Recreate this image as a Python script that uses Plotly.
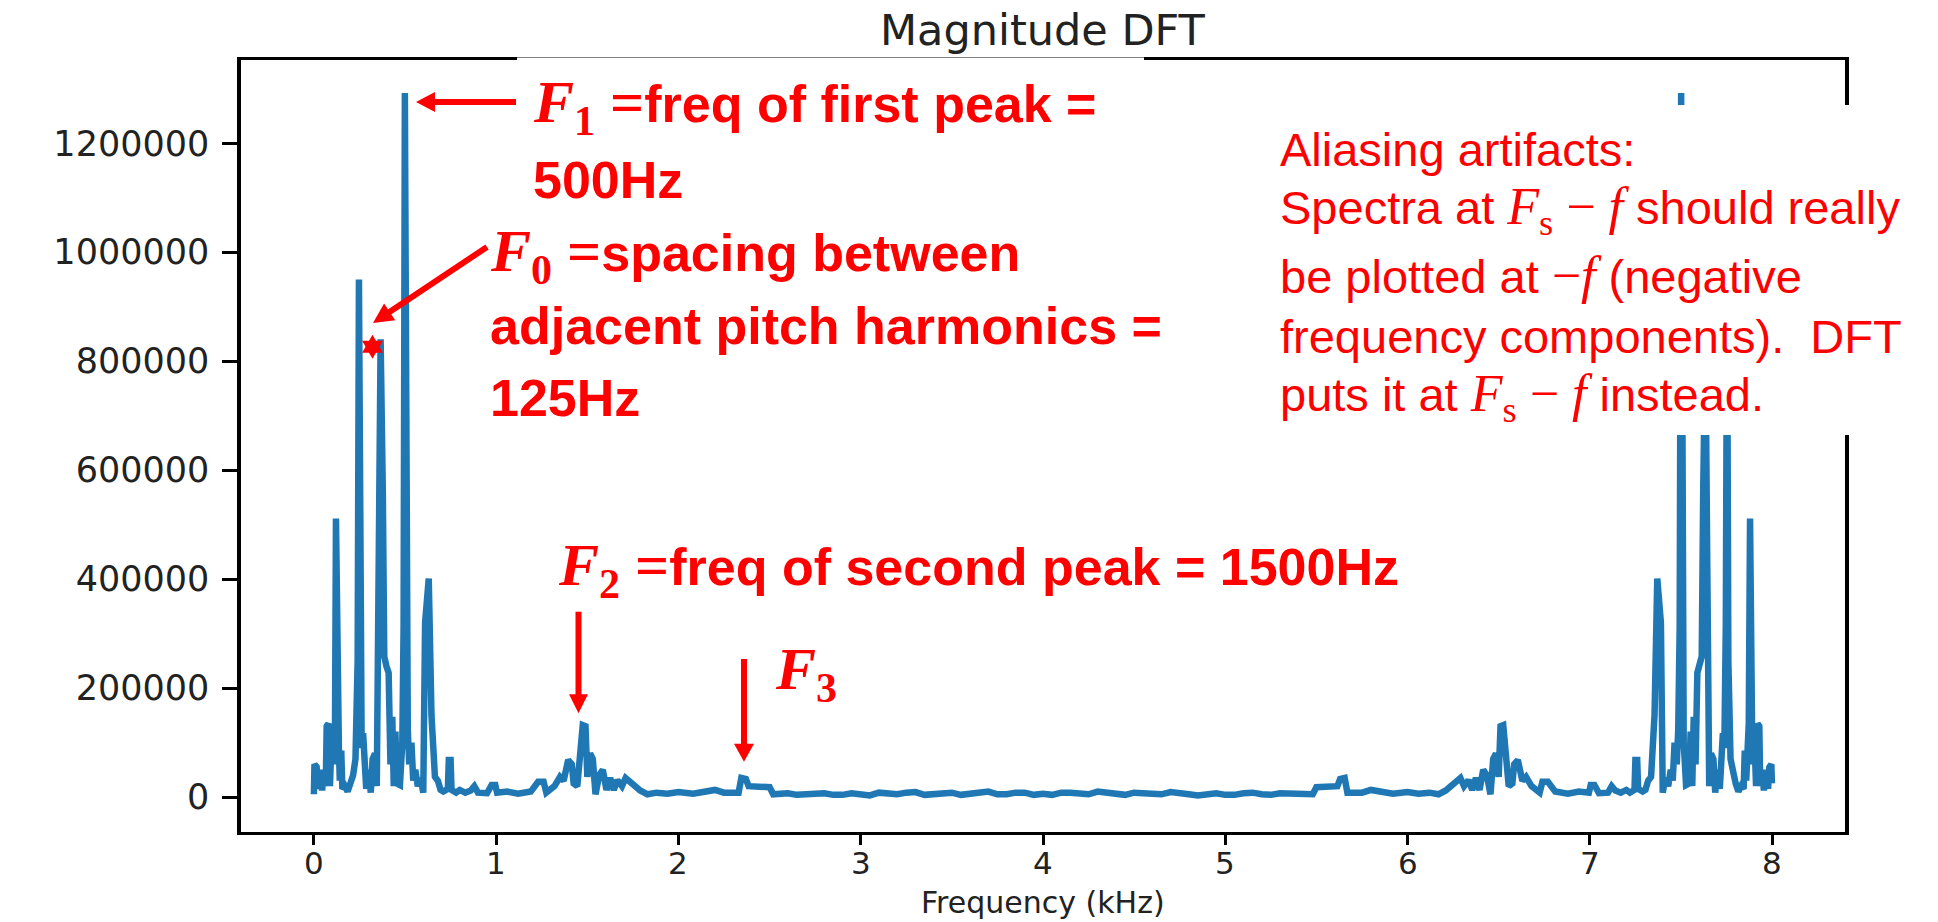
import math
import plotly.graph_objects as go

# ---------------- data ----------------
freq_low = [0.000, 0.003, 0.015, 0.022, 0.032, 0.045, 0.055, 0.065, 0.070, 0.080,
            0.088, 0.097, 0.108, 0.116, 0.121, 0.128, 0.137, 0.142, 0.150, 0.156,
            0.170, 0.185, 0.200, 0.215, 0.228, 0.240, 0.247, 0.254, 0.262, 0.270,
            0.278, 0.287, 0.300, 0.312, 0.322, 0.335, 0.345, 0.356, 0.366, 0.378,
            0.386, 0.398, 0.410, 0.420, 0.430, 0.438, 0.447, 0.455, 0.472, 0.485,
            0.492, 0.499, 0.507, 0.515, 0.523, 0.535, 0.545, 0.556, 0.570, 0.585,
            0.600, 0.610, 0.630, 0.645, 0.664, 0.680, 0.695, 0.710, 0.735, 0.740,
            0.750, 0.755, 0.780, 0.800, 0.830, 0.860, 0.880, 0.900, 0.950, 0.975,
            0.995, 1.005, 1.060, 1.120, 1.190, 1.230, 1.260, 1.275, 1.320, 1.350,
            1.370, 1.395, 1.415, 1.425, 1.445, 1.455, 1.475, 1.490, 1.500, 1.515,
            1.530, 1.545, 1.565, 1.585, 1.605, 1.625, 1.645, 1.665, 1.690, 1.710,
            1.735, 1.760, 1.790, 1.830, 1.880, 1.940, 2.000, 2.080, 2.150, 2.200,
            2.250, 2.330, 2.345, 2.370, 2.385, 2.450, 2.500, 2.520, 2.600, 2.650,
            2.700, 2.750, 2.800, 2.850, 2.900, 2.950, 3.000, 3.050, 3.100, 3.150,
            3.200, 3.250, 3.300, 3.350, 3.400, 3.450, 3.500, 3.550, 3.600, 3.650,
            3.700, 3.750, 3.800, 3.850, 3.900, 3.950, 4.000]
mag_low = [5000, 60000, 55000, 15000, 50000, 12000, 45000, 20000, 130000, 135000,
           20000, 110000, 60000, 140000, 511000, 135000, 90000, 30000, 85000, 15000,
           20000, 10000, 25000, 40000, 70000, 250000, 950000, 313000, 90000, 117000,
           60000, 15000, 50000, 8000, 70000, 80000, 20000, 441000, 840000, 560000,
           258000, 240000, 228000, 60000, 147000, 20000, 120000, 25000, 22000, 100000,
           313000, 1292000, 313000, 123000, 60000, 100000, 30000, 50000, 20000, 35000,
           8000, 320000, 401000, 150000, 37000, 30000, 13000, 10000, 15000, 68000,
           68000, 13000, 8000, 13000, 8000, 12000, 20000, 8000, 7000, 22000,
           22000, 8000, 10000, 6000, 10000, 28000, 28000, 8000, 20000, 37000,
           30000, 68000, 60000, 25000, 20000, 60000, 132000, 130000, 37000, 80000,
           70000, 5000, 40000, 50000, 13000, 35000, 13000, 31000, 20000, 35000,
           28000, 20000, 12000, 5000, 8000, 6000, 9000, 6000, 9000, 13000,
           8000, 8000, 35000, 33000, 20000, 20000, 18000, 5000, 7000, 4000,
           5000, 8000, 7000, 4000, 4000, 7000, 6000, 3000, 8000, 5000,
           5000, 8000, 9000, 4000, 5000, 7000, 8000, 4000, 6000, 9000,
           10000, 5000, 5000, 8000, 8000, 4000, 6000]

freq_high = [4.050, 4.100, 4.150, 4.200, 4.250, 4.300, 4.350, 4.400, 4.450, 4.500,
             4.550, 4.600, 4.650, 4.700, 4.750, 4.800, 4.850, 4.900, 4.950, 5.000,
             5.050, 5.100, 5.150, 5.200, 5.250, 5.300, 5.350, 5.400, 5.480, 5.500,
             5.550, 5.615, 5.630, 5.655, 5.670, 5.750, 5.800, 5.850, 5.920, 6.000,
             6.060, 6.120, 6.170, 6.210, 6.240, 6.265, 6.290, 6.310, 6.335, 6.355,
             6.375, 6.395, 6.415, 6.435, 6.455, 6.470, 6.485, 6.500, 6.510, 6.525,
             6.545, 6.555, 6.575, 6.585, 6.605, 6.630, 6.650, 6.680, 6.725, 6.740,
             6.770, 6.810, 6.880, 6.940, 6.995, 7.005, 7.025, 7.050, 7.100, 7.120,
             7.140, 7.170, 7.200, 7.220, 7.245, 7.250, 7.260, 7.265, 7.290, 7.305,
             7.320, 7.336, 7.355, 7.370, 7.390, 7.400, 7.415, 7.430, 7.444, 7.455,
             7.465, 7.477, 7.485, 7.493, 7.501, 7.508, 7.515, 7.528, 7.545, 7.553,
             7.562, 7.570, 7.580, 7.590, 7.602, 7.614, 7.622, 7.634, 7.644, 7.655,
             7.665, 7.678, 7.688, 7.700, 7.713, 7.722, 7.730, 7.738, 7.746, 7.753,
             7.760, 7.772, 7.785, 7.800, 7.815, 7.830, 7.844, 7.850, 7.858, 7.863,
             7.872, 7.879, 7.884, 7.892, 7.903, 7.912, 7.920, 7.930, 7.935, 7.945,
             7.955, 7.968, 7.978, 7.985, 7.996, 7.999]
mag_high = [4000, 8000, 8000, 5000, 5000, 10000, 9000, 6000, 4000, 8000,
            7000, 5000, 5000, 9000, 8000, 5000, 3000, 6000, 7000, 4000,
            4000, 7000, 8000, 5000, 4000, 7000, 6000, 7000, 5000, 18000,
            20000, 20000, 33000, 35000, 8000, 8000, 13000, 9000, 6000, 9000,
            6000, 8000, 5000, 12000, 20000, 28000, 35000, 20000, 31000, 13000,
            35000, 13000, 50000, 40000, 5000, 70000, 80000, 37000, 130000, 132000,
            60000, 20000, 25000, 60000, 68000, 30000, 37000, 20000, 8000, 28000,
            28000, 10000, 6000, 10000, 8000, 22000, 22000, 7000, 8000, 20000,
            12000, 8000, 13000, 8000, 13000, 68000, 68000, 15000, 10000, 13000,
            30000, 37000, 150000, 401000, 320000, 8000, 35000, 20000, 50000, 30000,
            100000, 60000, 123000, 313000, 1292000, 313000, 100000, 22000, 25000, 120000,
            20000, 147000, 60000, 228000, 240000, 258000, 560000, 840000, 441000, 20000,
            80000, 70000, 8000, 50000, 15000, 60000, 117000, 90000, 313000, 950000,
            250000, 70000, 40000, 25000, 10000, 20000, 15000, 85000, 30000, 90000,
            135000, 511000, 140000, 60000, 110000, 20000, 135000, 130000, 20000, 45000,
            12000, 50000, 15000, 55000, 60000, 25000]

x_ticks = [0, 1, 2, 3, 4, 5, 6, 7, 8]
x_tick_labels = ["0", "1", "2", "3", "4", "5", "6", "7", "8"]
y_ticks = [0, 200000, 400000, 600000, 800000, 1000000, 1200000]
y_tick_labels = ["0", "200000", "400000", "600000", "800000", "1000000", "1200000"]

# ---------------- geometry helpers (pixel -> paper) ----------------
W, H = 1938, 922
L, R, T, B = 241, 1845, 60, 832


def PX(x):
    return (x - L) / (R - L)


def PY(y):
    return (B - y) / (B - T)


RED = "#ff0000"
INK = "#222222"

fig = go.Figure()
fig.add_trace(go.Scatter(
    x=freq_low + freq_high, y=mag_low + mag_high, mode="lines",
    line=dict(color="#1f77b4", width=6.5), hoverinfo="skip", showlegend=False))

shapes = []
# white boxes of the overlaid slide text
for x0, x1, y0, y1 in [(517, 1144, 57.5, 225), (1250, 1938, 105, 435)]:
    shapes.append(dict(type="rect", xref="paper", yref="paper", layer="above",
                       x0=PX(x0), x1=PX(x1), y0=PY(y1), y1=PY(y0),
                       fillcolor="white", line=dict(width=0)))


def arrow(x0, y0, x1, y1, w=6, hl=19, hw=20):
    dx, dy = x1 - x0, y1 - y0
    n = (dx * dx + dy * dy) ** 0.5
    ux, uy = dx / n, dy / n
    bx, by = x1 - ux * hl, y1 - uy * hl
    nx, ny = -uy, ux
    shapes.append(dict(type="line", xref="paper", yref="paper", layer="above",
                       x0=PX(x0), y0=PY(y0), x1=PX(bx + ux * 2), y1=PY(by + uy * 2),
                       line=dict(color=RED, width=w)))
    pts = [(x1, y1), (bx + nx * hw / 2, by + ny * hw / 2), (bx - nx * hw / 2, by - ny * hw / 2)]
    path = "M " + " L ".join(f"{PX(a):.5f},{PY(b):.5f}" for a, b in pts) + " Z"
    shapes.append(dict(type="path", xref="paper", yref="paper", layer="above", path=path,
                       fillcolor=RED, line=dict(color=RED, width=0)))


arrow(516, 102, 416, 102)
arrow(487, 247, 373, 323, hl=20, hw=20)
arrow(578.5, 611.7, 578.5, 713.3, hl=19, hw=19)
arrow(744, 659, 744, 761.7, hl=18, hw=20)

# small red six-pointed star
cx, cy, rr = 372.5, 346.7, 12
for start in (-90, 90):
    pts = [(cx + rr * math.cos(math.radians(start + k * 120)),
            cy + rr * math.sin(math.radians(start + k * 120))) for k in range(3)]
    path = "M " + " L ".join(f"{PX(a):.5f},{PY(b):.5f}" for a, b in pts) + " Z"
    shapes.append(dict(type="path", xref="paper", yref="paper", layer="above", path=path,
                       fillcolor=RED, line=dict(color=RED, width=0)))

MATHB = '<span style="font-family:\'Liberation Serif\';font-size:60px"><i>F</i><sub>{}</sub> =</span>'
MATH_FS = '<span style="font-family:\'Liberation Serif\';font-size:52px"><i>F</i><sub>s</sub> − <i>f</i> </span>'
MATH_MF = '<span style="font-family:\'Liberation Serif\';font-size:52px">−<i>f</i> </span>'

bold = dict(family="Liberation Sans", size=52, color=RED, weight="bold")
reg = dict(family="Liberation Sans", size=47, color=RED)

notes = [
    (531, 106, MATHB.format(1) + "freq of first peak =", bold),
    (531, 179.5, "500Hz", bold),
    (488, 255, MATHB.format(0) + "spacing between", bold),
    (488, 326, "adjacent pitch harmonics =", bold),
    (488, 398, "125Hz", bold),
    (556, 569, MATHB.format(2) + "freq of second peak = 1500Hz", bold),
    (773, 673, '<span style="font-family:\'Liberation Serif\';font-size:60px"><i>F</i><sub>3</sub></span>', bold),
    (1278, 150, "Aliasing artifacts:", reg),
    (1278, 210.5, "Spectra at " + MATH_FS + "should really", reg),
    (1278, 275, "be plotted at " + MATH_MF + "(negative", reg),
    (1278, 336, "frequency components).  DFT", reg),
    (1278, 397.5, "puts it at " + MATH_FS + "instead.", reg),
]
annotations = []
for x, y, txt, f in notes:
    annotations.append(dict(xref="paper", yref="paper", x=PX(x), y=PY(y), text=txt,
                            showarrow=False, xanchor="left", yanchor="middle", font=f))

# x tick labels placed under their ticks
for v, lab in zip(x_ticks, x_tick_labels):
    annotations.append(dict(xref="x", yref="paper", x=v, y=PY(863), text=lab,
                            showarrow=False, xanchor="center", yanchor="middle", borderpad=0,
                            font=dict(family="DejaVu Sans", size=31, color=INK)))

# title and axis label
annotations.append(dict(xref="paper", yref="paper", x=PX(1043), y=PY(30), text="Magnitude DFT",
                        showarrow=False, xanchor="center", yanchor="middle", borderpad=0,
                        font=dict(family="DejaVu Sans", size=43, color=INK)))
annotations.append(dict(xref="paper", yref="paper", x=PX(1043), y=PY(902), text="Frequency (kHz)",
                        showarrow=False, xanchor="center", yanchor="middle", borderpad=0,
                        font=dict(family="DejaVu Sans", size=30, color=INK)))

fig.update_layout(
    width=W, height=H,
    margin=dict(l=L, r=W - R, t=T, b=H - B, pad=0),
    paper_bgcolor="white", plot_bgcolor="white",
    shapes=shapes, annotations=annotations,
    xaxis=dict(range=[-0.4, 8.4], tickvals=x_ticks, showticklabels=False,
               showgrid=False, zeroline=False, showline=True, mirror=True,
               linecolor="black", linewidth=2.5, ticks="outside", ticklen=10,
               tickwidth=3, tickcolor="black"),
    yaxis=dict(range=[-64200, 1352800], tickvals=y_ticks, ticktext=y_tick_labels,
               showgrid=False, zeroline=False, showline=True, mirror=True,
               linecolor="black", linewidth=3.5, ticks="outside", ticklen=15,
               tickwidth=2.5, tickcolor="black", ticklabelstandoff=6,
               tickfont=dict(family="DejaVu Sans", size=35, color=INK)),
)

fig.write_html("out.html")
